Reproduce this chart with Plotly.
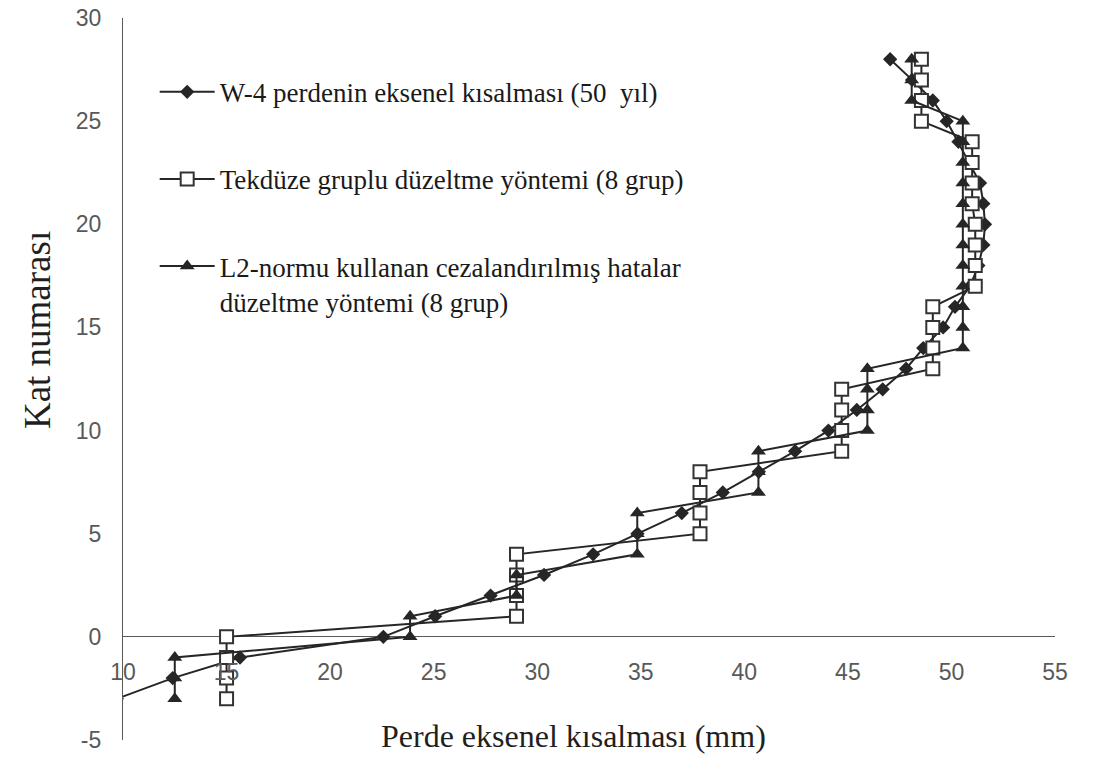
import plotly.graph_objects as go

# ---- data ----
floors = [-3, -2, -1, 0, 1, 2, 3, 4, 5, 6, 7, 8, 9, 10, 11, 12, 13, 14, 15, 16,
          17, 18, 19, 20, 21, 22, 23, 24, 25, 26, 27, 28]

w4_shortening = [9.7, 12.4, 15.65, 22.57, 25.07, 27.75, 30.33, 32.7, 34.84, 36.98,
                 38.96, 40.7, 42.45, 44.06, 45.43, 46.68, 47.81, 48.64, 49.6, 50.17,
                 50.9, 51.3, 51.54, 51.62, 51.54, 51.38, 50.85, 50.34, 49.77, 49.1,
                 48.1, 47.04]

uniform_group = [15.0, 15.0, 15.0, 15.0, 29.0, 29.0, 29.0, 29.0, 37.86, 37.86,
                 37.86, 37.86, 44.7, 44.7, 44.7, 44.7, 49.1, 49.1, 49.1, 49.1,
                 51.15, 51.15, 51.15, 51.15, 51.0, 51.0, 51.0, 51.0, 48.55, 48.55,
                 48.55, 48.55]

l2_penalized = [12.5, 12.5, 12.5, 23.86, 23.86, 29.0, 29.0, 34.83, 34.83, 34.83,
                40.68, 40.68, 40.68, 45.94, 45.94, 45.94, 45.94, 50.55, 50.55, 50.55,
                50.55, 50.55, 50.55, 50.55, 50.55, 50.55, 50.55, 50.55, 50.55, 48.08,
                48.08, 48.08]

series_names = [
    "W-4 perdenin eksenel kısalması (50\u00a0 yıl)",
    "Tekdüze gruplu düzeltme yöntemi (8 grup)",
    "L2-normu kullanan cezalandırılmış hatalar<br>düzeltme yöntemi (8 grup)",
]

x_ticks = [10, 15, 20, 25, 30, 35, 40, 45, 50, 55]
y_ticks = [-5, 0, 5, 10, 15, 20, 25, 30]
x_title = "Perde eksenel kısalması (mm)"
y_title = "Kat numarası"

# ---- styling ----
INK = "#262626"
AXIS = "#595959"
SERIF = "Liberation Serif"

fig = go.Figure()

fig.add_trace(go.Scatter(
    x=w4_shortening, y=floors, mode="lines+markers", name=series_names[0],
    legendgroup="a",
    line=dict(color=INK, width=2),
    marker=dict(symbol="diamond", size=11, color=INK, line=dict(width=0)),
))
fig.add_trace(go.Scatter(
    x=uniform_group, y=floors, mode="lines+markers", name=series_names[1],
    legendgroup="b",
    line=dict(color=INK, width=2),
    marker=dict(symbol="square", size=13, color="white", line=dict(color="#333333", width=2)),
))
fig.add_trace(go.Scatter(
    x=l2_penalized, y=floors, mode="lines+markers", name=series_names[2],
    legendgroup="c",
    line=dict(color=INK, width=2),
    marker=dict(symbol="triangle-up", size=13, color=INK, line=dict(width=0)),
))

fig.update_layout(
    width=1094, height=760,
    margin=dict(l=123, r=39, t=18, b=20, autoexpand=False),
    paper_bgcolor="white", plot_bgcolor="white",
    showlegend=True,
    legend=dict(
        x=0.034, y=0.931, xanchor="left", yanchor="top",
        font=dict(family=SERIF, size=27, color="#1a1a1a"),
        tracegroupgap=49, valign="top", bgcolor="rgba(0,0,0,0)",
        itemwidth=55,
    ),
    xaxis=dict(
        range=[10, 55], tickvals=x_ticks, ticktext=[str(v) for v in x_ticks],
        anchor="free", position=0.117, automargin=False,
        showline=False, showgrid=False, zeroline=False, ticks="",
        ticklabeloverflow="allow",
        tickfont=dict(family="Liberation Sans", size=23, color=AXIS),
    ),
    yaxis=dict(
        range=[-5, 30], tickvals=y_ticks, ticktext=[str(v) for v in y_ticks],
        automargin=False,
        showline=True, linecolor=AXIS, linewidth=1.3,
        showgrid=False, zeroline=True, zerolinecolor=AXIS, zerolinewidth=1.3,
        ticks="", ticklabelstandoff=16, ticklabeloverflow="allow",
        tickfont=dict(family="Liberation Sans", size=23, color=AXIS),
    ),
    annotations=[
        dict(text=x_title, xref="paper", yref="paper", x=0.483, y=0.006,
             xanchor="center", yanchor="middle", showarrow=False,
             font=dict(family=SERIF, size=32, color="#1f1f1f")),
        dict(text=y_title, xref="paper", yref="paper", x=-0.091, y=0.568,
             xanchor="center", yanchor="middle", showarrow=False, textangle=-90,
             font=dict(family=SERIF, size=37, color="#1f1f1f")),
    ],
)

# remove the default 8px page margin so the figure fills the window exactly
fig.write_html("out.html", config={"displayModeBar": False},
               post_script="document.body.style.margin='0';")
